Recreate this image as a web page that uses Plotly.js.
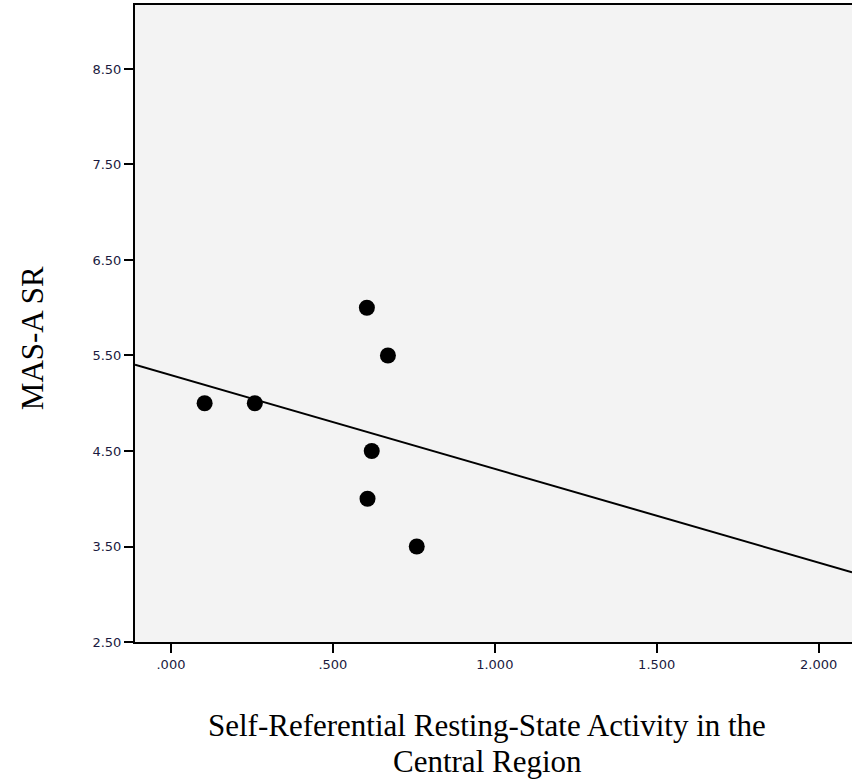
<!DOCTYPE html>
<html>
<head>
<meta charset="utf-8">
<script src="https://cdn.plot.ly/plotly-3.0.1.min.js"></script>
<style>html,body{margin:0;padding:0;background:#fff;}#chart{width:852px;height:784px;}</style>
</head>
<body>
<div id="chart"></div>
<script>
// Data
const activity = [0.104, 0.259, 0.605, 0.620, 0.607, 0.670, 0.759];
const masaSR   = [5.0,   5.0,   6.0,   4.5,   4.0,   5.5,   3.5];
const xTickVals = [0, 0.5, 1.0, 1.5, 2.0];
const xTickText = ['.000', '.500', '1.000', '1.500', '2.000'];
const yTickVals = [2.5, 3.5, 4.5, 5.5, 6.5, 7.5, 8.5];
const yTickText = ['2.50', '3.50', '4.50', '5.50', '6.50', '7.50', '8.50'];
const xTitleLines = ['Self-Referential Resting-State Activity in the', 'Central Region'];
const yTitle = 'MAS-A SR';

const xRange = [-0.111, 2.103];
const yRange = [2.5, 9.17];

// least-squares fit line
const n = activity.length;
const mx = activity.reduce((a,b)=>a+b,0)/n;
const my = masaSR.reduce((a,b)=>a+b,0)/n;
let sxy = 0, sxx = 0;
for (let i=0;i<n;i++){ sxy += (activity[i]-mx)*(masaSR[i]-my); sxx += (activity[i]-mx)**2; }
const slope = sxy/sxx, intercept = my - slope*mx;
const fitX = xRange.slice();
const fitY = fitX.map(x => intercept + slope*x);

const tickFont = {family: 'DejaVu Sans, Verdana, sans-serif', size: 13, color: '#1a1a40'};
const titleFont = {family: 'Liberation Serif, Times New Roman, serif', size: 31, color: '#000'};

Plotly.newPlot('chart', [
  {x: fitX, y: fitY, type: 'scatter', mode: 'lines', line: {color: '#000', width: 2}, hoverinfo: 'skip', showlegend: false},
  {x: activity, y: masaSR, type: 'scatter', mode: 'markers', marker: {color: '#000', size: 16}, showlegend: false}
], {
  width: 852, height: 784,
  margin: {l: 135, r: 0, t: 5, b: 142},
  paper_bgcolor: '#ffffff',
  plot_bgcolor: '#f3f3f3',
  showlegend: false,
  xaxis: {
    range: xRange, tickvals: xTickVals, ticktext: xTickText,
    ticks: 'outside', ticklen: 9, tickwidth: 2, tickcolor: '#000',
    showline: true, linecolor: '#000', linewidth: 2, mirror: true,
    showgrid: false, zeroline: false, automargin: false,
    tickfont: tickFont
  },
  yaxis: {
    range: yRange, tickvals: yTickVals, ticktext: yTickText,
    ticks: 'outside', ticklen: 9, tickwidth: 2, tickcolor: '#000',
    showline: true, linecolor: '#000', linewidth: 2,
    showgrid: false, zeroline: false, automargin: false,
    tickfont: tickFont
  },
  annotations: [
    {text: xTitleLines[0], xref: 'paper', yref: 'paper', x: 0.491, y: 0, yshift: -83,
     xanchor: 'center', yanchor: 'middle', showarrow: false, font: titleFont},
    {text: xTitleLines[1], xref: 'paper', yref: 'paper', x: 0.491, y: 0, yshift: -119,
     xanchor: 'center', yanchor: 'middle', showarrow: false, font: titleFont},
    {text: yTitle, xref: 'paper', yref: 'paper', x: 0, xshift: -103, y: 0.477,
     xanchor: 'center', yanchor: 'middle', textangle: -90, showarrow: false, font: titleFont}
  ]
}, {displayModeBar: false, staticPlot: true});
</script>
</body>
</html>
